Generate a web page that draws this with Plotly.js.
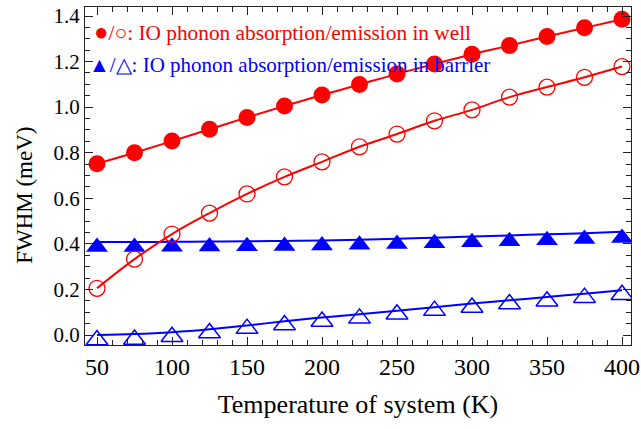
<!DOCTYPE html>
<html>
<head>
<meta charset="utf-8">
<script src="https://cdn.plot.ly/plotly-3.0.1.min.js"></script>
<style>
  html, body { margin: 0; padding: 0; background: #fff; }
  #chart { width: 641px; height: 429px; }
</style>
</head>
<body>
<div id="chart"></div>
<script>
// Temperature of the system (K)
const temperature = [50, 75, 100, 125, 150, 175, 200, 225, 250, 275, 300, 325, 350, 375, 400];

// FWHM (meV), IO phonon absorption / emission in the well
const wellAbsorption = [0.752, 0.800, 0.851, 0.903, 0.955, 1.005, 1.053, 1.099, 1.146, 1.189, 1.232, 1.270, 1.310, 1.348, 1.386];
const wellEmission   = [0.205, 0.333, 0.443, 0.535, 0.619, 0.694, 0.760, 0.826, 0.882, 0.940, 0.988, 1.044, 1.088, 1.131, 1.178];

// FWHM (meV), IO phonon absorption / emission in the barrier
const barrierAbsorption = [0.386, 0.386, 0.387, 0.388, 0.389, 0.391, 0.393, 0.396, 0.399, 0.403, 0.407, 0.411, 0.416, 0.421, 0.426];
const barrierEmission   = [-0.022, -0.020, -0.008, 0.009, 0.028, 0.044, 0.059, 0.073, 0.091, 0.107, 0.121, 0.136, 0.148, 0.164, 0.177];

// Fitted curves for the barrier series
const barrierAbsorptionFit = [0.408, 0.408, 0.409, 0.410, 0.411, 0.413, 0.415, 0.418, 0.422, 0.427, 0.432, 0.437, 0.442, 0.447, 0.453];
const barrierEmissionFit   = [0.000, 0.004, 0.012, 0.025, 0.042, 0.060, 0.077, 0.091, 0.106, 0.122, 0.138, 0.152, 0.167, 0.181, 0.196];

const xTicks = [50, 100, 150, 200, 250, 300, 350, 400];
const yTicks = [0.0, 0.2, 0.4, 0.6, 0.8, 1.0, 1.2, 1.4];

const RED = '#ff0000';
const BLUE = '#0000ff';
const SERIF = 'Liberation Serif';

const traces = [
  {
    x: temperature, y: barrierAbsorptionFit, mode: 'lines',
    line: { color: BLUE, width: 2, shape: 'spline' }, hoverinfo: 'skip'
  },
  {
    x: temperature, y: barrierEmissionFit, mode: 'lines',
    line: { color: BLUE, width: 2, shape: 'spline' }, hoverinfo: 'skip'
  },
  {
    x: temperature, y: barrierAbsorption, mode: 'markers',
    marker: { symbol: 'triangle-up', size: 19, color: BLUE, line: { width: 0 } }
  },
  {
    x: temperature, y: barrierEmission, mode: 'markers',
    marker: { symbol: 'triangle-up-open', size: 19, color: BLUE, line: { width: 1.5, color: BLUE } }
  },
  {
    x: temperature, y: wellEmission, mode: 'lines+markers',
    line: { color: RED, width: 2, shape: 'spline' },
    marker: { symbol: 'circle-open', size: 16, color: RED, line: { width: 1.3, color: RED } }
  },
  {
    x: temperature, y: wellAbsorption, mode: 'lines+markers',
    line: { color: RED, width: 2, shape: 'spline' },
    marker: { symbol: 'circle', size: 17, color: RED }
  }
];

const axisCommon = {
  showline: true, linecolor: '#222', linewidth: 1, mirror: 'allticks',
  ticks: 'inside', ticklen: 8, tickwidth: 1, tickcolor: '#222',
  showgrid: false, zeroline: false
};

const layout = {
  width: 641, height: 429,
  margin: { l: 85, r: 10, t: 7, b: 84 },
  paper_bgcolor: '#fff', plot_bgcolor: '#fff',
  showlegend: false,
  font: { family: SERIF, color: '#000' },
  xaxis: Object.assign({}, axisCommon, {
    range: [42, 406],
    tickvals: xTicks, ticktext: xTicks.map(String),
    tickfont: { family: SERIF, size: 24, color: '#000' },
    minor: { dtick: 10, tick0: 0, ticks: 'inside', ticklen: 5, tickcolor: '#222' },
    title: { text: 'Temperature of system (K)', font: { family: SERIF, size: 26, color: '#000' }, standoff: 16 }
  }),
  yaxis: Object.assign({}, axisCommon, {
    range: [-0.0439, 1.4395],
    tickvals: yTicks, ticktext: yTicks.map(v => v.toFixed(1)),
    tickfont: { family: SERIF, size: 21, color: '#000' },
    minor: { dtick: 0.05, tick0: 0, ticks: 'inside', ticklen: 5, tickcolor: '#222' }
  }),
  annotations: [
    {
      // y-axis title, set a little below the plot's mid-height
      xref: 'paper', yref: 'paper', x: -0.11, y: 0.444,
      xanchor: 'center', yanchor: 'middle', showarrow: false, textangle: -90,
      text: 'FWHM (meV)',
      font: { family: SERIF, size: 23, color: '#000' }
    },
    {
      xref: 'paper', yref: 'paper', x: 0.012, y: 0.926,
      xanchor: 'left', yanchor: 'middle', showarrow: false,
      text: '<span style="font-size:24px">●</span>/○: IO phonon absorption/emission in well',
      font: { family: SERIF, size: 21.3, color: RED }
    },
    {
      xref: 'paper', yref: 'paper', x: 0.004, y: 0.828,
      xanchor: 'left', yanchor: 'middle', showarrow: false,
      text: '▲/△: IO phonon absorption/emission in barrier',
      font: { family: SERIF, size: 21, color: BLUE }
    }
  ]
};

Plotly.newPlot('chart', traces, layout, { staticPlot: true, displayModeBar: false });
</script>
</body>
</html>
